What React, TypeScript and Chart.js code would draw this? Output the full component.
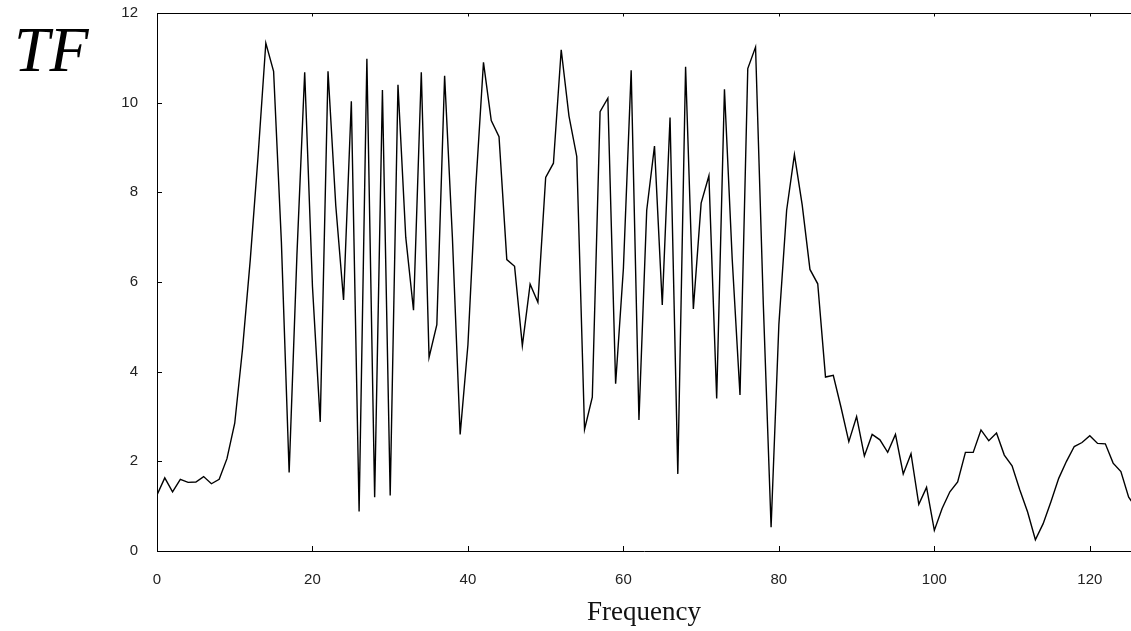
import React, { useEffect, useRef } from "react";
import { Chart, registerables } from "chart.js";

Chart.register(...registerables);

const frequency = [
  0, 1, 2, 3, 4, 5, 6, 7, 8, 9, 10, 11, 12, 13, 14, 15, 16, 17, 18, 19, 20,
  21, 22, 23, 24, 25, 26, 27, 28, 29, 30, 31, 32, 33, 34, 35, 36, 37, 38, 39, 40,
  41, 42, 43, 44, 45, 46, 47, 48, 49, 50, 51, 52, 53, 54, 55, 56, 57, 58, 59, 60,
  61, 62, 63, 64, 65, 66, 67, 68, 69, 70, 71, 72, 73, 74, 75, 76, 77, 78, 79, 80,
  81, 82, 83, 84, 85, 86, 87, 88, 89, 90, 91, 92, 93, 94, 95, 96, 97, 98, 99, 100,
  101, 102, 103, 104, 105, 106, 107, 108, 109, 110, 111, 112, 113, 114, 115, 116,
  117, 118, 119, 120, 121, 122, 123, 124, 125, 126,
];

const tfValues = [
  1.25, 1.63, 1.32, 1.6, 1.53, 1.54, 1.66, 1.5, 1.6, 2.06, 2.85,
  4.5, 6.5, 8.8, 11.33, 10.7, 6.9, 1.75, 6.6, 10.68, 5.9,
  2.88, 10.7, 7.7, 5.6, 10.03, 0.88, 10.98, 1.2, 10.28, 1.24,
  10.4, 7.0, 5.37, 10.68, 4.32, 5.05, 10.6, 7.0, 2.6, 4.6,
  8.1, 10.9, 9.6, 9.24, 6.5, 6.35, 4.58, 5.95, 5.55, 8.33,
  8.65, 11.18, 9.7, 8.8, 2.71, 3.43, 9.8, 10.1, 3.73, 6.3,
  10.72, 2.92, 7.6, 9.03, 5.49, 9.67, 1.72, 10.8, 5.4, 7.76,
  8.37, 3.4, 10.3, 6.5, 3.48, 10.76, 11.24, 5.5, 0.53, 5.05,
  7.6, 8.84, 7.72, 6.28, 5.96, 3.88, 3.92, 3.2, 2.44, 3.0,
  2.12, 2.6, 2.48, 2.2, 2.6, 1.72, 2.17, 1.04, 1.42, 0.46,
  0.95, 1.32, 1.54, 2.2, 2.2, 2.7, 2.46, 2.63, 2.14, 1.9,
  1.36, 0.87, 0.25, 0.61, 1.1, 1.62, 2.0, 2.33, 2.42, 2.57,
  2.4, 2.39, 1.96, 1.77, 1.2, 0.95,
];

const xTickValues = [0, 20, 40, 60, 80, 100, 120];
const yTickValues = [0, 2, 4, 6, 8, 10, 12];

const X_MIN = 0;
const X_MAX = 125.3;
const Y_MIN = 0;
const Y_MAX = 12;

const frameAndTicks = {
  id: "frameAndTicks",
  afterDraw(chart: any) {
    const { ctx, chartArea, scales } = chart;
    const len = 5;
    ctx.save();
    ctx.strokeStyle = "#000";
    ctx.lineWidth = 1;
    ctx.beginPath();
    const topY = Math.round(chartArea.top) + 0.5;
    ctx.moveTo(chartArea.left, topY);
    ctx.lineTo(chartArea.right, topY);
    xTickValues.forEach((v) => {
      const px = Math.round(scales.x.getPixelForValue(v)) + 0.5;
      ctx.moveTo(px, chartArea.bottom);
      ctx.lineTo(px, chartArea.bottom - len);
      ctx.moveTo(px, topY);
      ctx.lineTo(px, topY + 3);
    });
    yTickValues.forEach((v) => {
      const py = Math.round(scales.y.getPixelForValue(v)) + 0.5;
      ctx.moveTo(chartArea.left, py);
      ctx.lineTo(chartArea.left + len, py);
    });
    ctx.stroke();
    ctx.restore();
  },
};

export default function App() {
  const canvasRef = useRef<HTMLCanvasElement | null>(null);

  useEffect(() => {
    const canvas = canvasRef.current;
    if (!canvas) return;
    const points = frequency.map((f, i) => ({ x: f, y: tfValues[i] }));
    const tickFont = { family: "'Liberation Sans', Arial, sans-serif", size: 15 };
    const chart = new Chart(canvas, {
      type: "line",
      data: {
        datasets: [
          {
            data: points,
            borderColor: "#000",
            borderWidth: 1.4,
            pointRadius: 0,
            tension: 0,
            fill: false,
          },
        ],
      },
      options: {
        responsive: false,
        animation: false,
        layout: { padding: { top: 13, left: 0, right: 0, bottom: 0 } },
        plugins: {
          legend: { display: false },
          tooltip: { enabled: false },
        },
        scales: {
          x: {
            type: "linear",
            position: "bottom",
            min: X_MIN,
            max: X_MAX,
            afterBuildTicks: (s: any) => {
              s.ticks = xTickValues.map((v) => ({ value: v }));
            },
            afterFit: (s: any) => {
              s.height = 80;
              s.paddingLeft = 0;
              s.paddingRight = 0;
            },
            ticks: {
              font: tickFont,
              color: "#222",
              padding: 20,
              maxRotation: 0,
              autoSkip: false,
            },
            grid: { display: false, drawTicks: false },
            border: { display: true, color: "#000", width: 1 },
            title: {
              display: true,
              text: "Frequency",
              color: "#111",
              font: { family: "'Liberation Serif', 'Times New Roman', serif", size: 27, lineHeight: 1 },
              padding: { top: 0, bottom: 5 },
            },
          },
          y: {
            type: "linear",
            min: Y_MIN,
            max: Y_MAX,
            afterBuildTicks: (s: any) => {
              s.ticks = yTickValues.map((v) => ({ value: v }));
            },
            afterFit: (s: any) => {
              s.width = 157;
              s.paddingTop = 0;
              s.paddingBottom = 0;
            },
            ticks: {
              font: tickFont,
              color: "#222",
              padding: 19,
            },
            grid: { display: false, drawTicks: false },
            border: { display: true, color: "#000", width: 1 },
          },
        },
      },
      plugins: [frameAndTicks],
    });
    return () => chart.destroy();
  }, []);

  return (
    <div
      style={{
        position: "fixed",
        left: 0,
        top: 0,
        width: 1131,
        height: 631,
        background: "#fff",
        overflow: "hidden",
      }}
    >
      <canvas ref={canvasRef} width={1131} height={631} style={{ display: "block", width: 1131, height: 631 }} />
      <div
        style={{
          position: "absolute",
          left: 14,
          top: 18,
          fontFamily: "'Liberation Serif', 'Times New Roman', serif",
          fontStyle: "italic",
          fontSize: 64,
          lineHeight: "64px",
          color: "#000",
        }}
      >
        TF
      </div>
    </div>
  );
}
